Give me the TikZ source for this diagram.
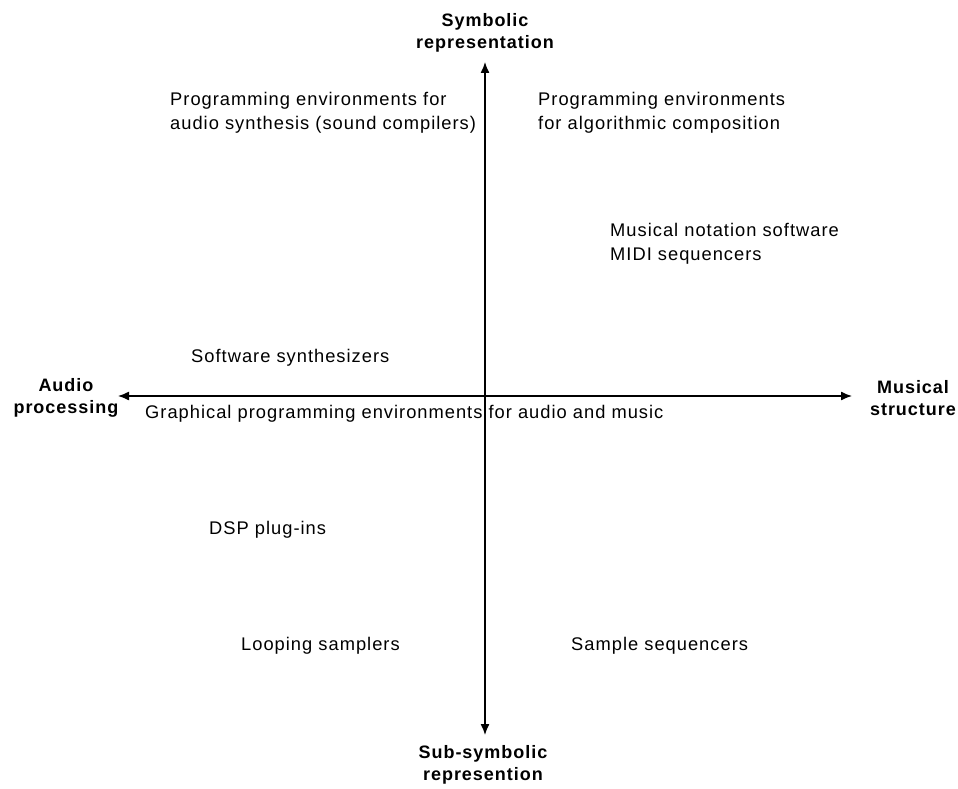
\documentclass[tikz,border=0pt]{standalone}
\usepackage{fontspec}
\setmainfont{Liberation Sans}[LetterSpace=5.5]
\usetikzlibrary{arrows.meta}

\begin{document}
\begin{tikzpicture}[x=1pt,y=-1pt]

      \useasboundingbox (0,0) rectangle (958,789);

      \begin{scope}[every node/.style={align=center,font=\fontsize{18}{22}\selectfont\bfseries}]
        \node (symb)  at (485,33)  {Symbolic\\representation};
        \node (sub)   at (483,765) {Sub-symbolic\\represention};
        \node (audio) at (66,398)  {Audio\\processing};
        \node (music) at (913,398) {Musical\\structure};
      \end{scope}

      \coordinate (top)    at (485,62);
      \coordinate (bottom) at (485,735);
      \coordinate (left)   at (118,396);
      \coordinate (right)  at (852,396);

      \begin{scope}[line width=1.3pt,>={Latex[length=11pt,width=9pt]}]
        \draw[<->] (bottom) -- (top);
        \draw[<->] (left) -- (right);
      \end{scope}

      \begin{scope}[every node/.style={align=left,anchor=west,inner sep=0pt,font=\fontsize{18.3}{24}\selectfont}]
        \node (synth)   at (170,113) {Programming environments for\\audio synthesis (sound compilers)};
        \node (algo)    at (538,113) {Programming environments\\for algorithmic composition};
        \node (notat)   at (610,244) {Musical notation software\\MIDI sequencers};
        \node (softsyn) at (191,358) {Software synthesizers};
        \node (graph)   at (145,414) {Graphical programming environments for audio and music};
        \node (dsp)     at (209,530) {DSP plug-ins};
        \node (loop)    at (241,646) {Looping samplers};
        \node (sample)  at (571,646) {Sample sequencers};
      \end{scope}

    \end{tikzpicture}
\end{document}
